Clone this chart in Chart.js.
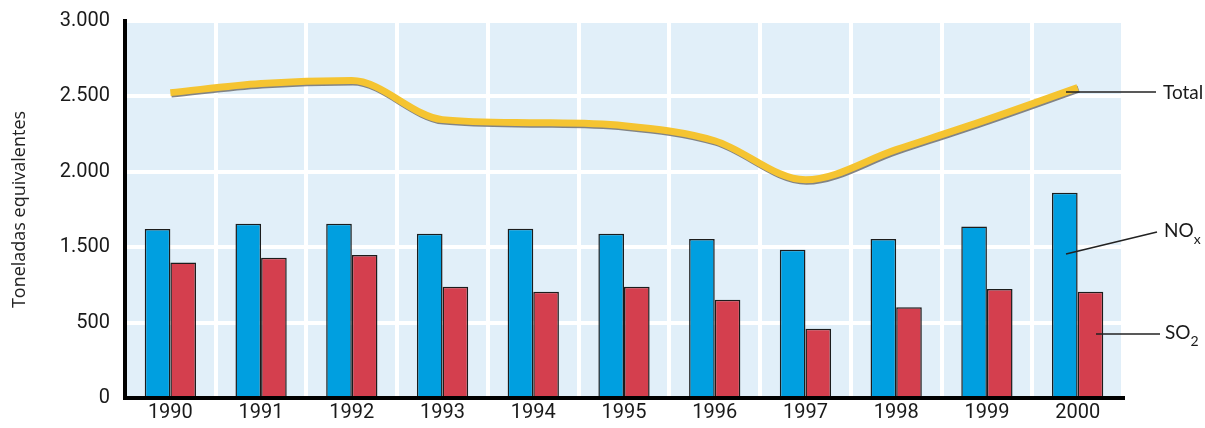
<!DOCTYPE html>
<html>
<head>
<meta charset="utf-8">
<script src="https://cdn.jsdelivr.net/npm/chart.js@4"></script>
<style>
  body { margin: 0; background: #fff; }
  #wrap { width: 1205px; height: 428px; position: relative; }
</style>
</head>
<body>
<div id="wrap"><canvas id="chart"></canvas></div>
<script>
// Data (toneladas equivalentes); axis printed labels are kept as in the source
const years = ["1990", "1991", "1992", "1993", "1994", "1995", "1996", "1997", "1998", "1999", "2000"];
const noxValues = [1120, 1155, 1155, 1089, 1122, 1089, 1054, 983, 1054, 1137, 1361];
const so2Values = [898, 930, 948, 737, 704, 737, 651, 460, 602, 722, 704];
const totalValues = [2025, 2085, 2105, 1846, 1826, 1806, 1706, 1447, 1647, 1846, 2058];
const yTickLabels = ["0", "500", "1.500", "2.000", "2.500", "3.000"];

// light blue plot background
const plotBg = {
  id: "plotBg",
  beforeDraw(chart) {
    const { ctx, chartArea: a } = chart;
    ctx.save();
    ctx.fillStyle = "#e1eff9";
    ctx.fillRect(a.left, a.top, a.right - a.left, a.bottom - a.top);
    ctx.restore();
  },
};

// grey drop shadow under the total line
const lineShadow = {
  id: "lineShadow",
  beforeDatasetDraw(chart, args) {
    if (args.meta.type !== "line") return;
    const ctx = chart.ctx;
    ctx.save();
    ctx.shadowColor = "rgba(120,120,120,0.9)";
    ctx.shadowOffsetX = 1;
    ctx.shadowOffsetY = 1.5;
    ctx.shadowBlur = 0.5;
  },
  afterDatasetDraw(chart, args) {
    if (args.meta.type !== "line") return;
    chart.ctx.restore();
  },
};

// labels at the right with leader lines
const seriesLabels = {
  id: "seriesLabels",
  afterDraw(chart) {
    const ctx = chart.ctx;
    ctx.save();
    ctx.strokeStyle = "#222";
    ctx.lineWidth = 1.5;
    const leaders = [
      [1066, 92, 1156, 92],
      [1066, 254, 1157, 232],
      [1096, 334, 1160, 334],
    ];
    leaders.forEach(([x1, y1, x2, y2]) => {
      ctx.beginPath();
      ctx.moveTo(x1, y1);
      ctx.lineTo(x2, y2);
      ctx.stroke();
    });
    ctx.fillStyle = "#1a1a1a";
    ctx.textBaseline = "middle";
    ctx.font = "19px Lato";
    ctx.fillText("Total", 1163, 93);
    ctx.fillText("NO", 1164, 231);
    const noW = ctx.measureText("NO").width;
    ctx.fillText("SO", 1165, 333);
    const soW = ctx.measureText("SO").width;
    ctx.font = "14px Lato";
    ctx.fillText("x", 1164 + noW, 239);
    ctx.fillText("2", 1165 + soW, 341);
    ctx.restore();
  },
};

const ctx = document.getElementById("chart").getContext("2d");
const chart = new Chart(ctx, {
  data: {
    labels: years,
    datasets: [
      {
        type: "line",
        label: "Total",
        data: totalValues,
        borderColor: "#f5c431",
        borderWidth: 7,
        pointRadius: 0,
        cubicInterpolationMode: "monotone",
        borderJoinStyle: "round",
        order: 0,
      },
      {
        type: "bar",
        label: "NOx",
        data: noxValues,
        backgroundColor: "#009fe0",
        borderColor: "#1c1c1c",
        borderWidth: 1.5,
        categoryPercentage: 0.565,
        barPercentage: 1.0,
        order: 1,
      },
      {
        type: "bar",
        label: "SO2",
        data: so2Values,
        backgroundColor: "#d43f4e",
        borderColor: "#1c1c1c",
        borderWidth: 1.5,
        categoryPercentage: 0.565,
        barPercentage: 1.0,
        order: 1,
      },
    ],
  },
  options: {
    responsive: true,
    maintainAspectRatio: false,
    animation: false,
    layout: { padding: { left: 0, right: 82, top: 21, bottom: 0 } },
    plugins: {
      legend: { display: false },
      tooltip: { enabled: false },
    },
    scales: {
      x: {
        offset: true,
        grid: { offset: true, color: "#ffffff", lineWidth: 4, drawTicks: false },
        border: { color: "#000", width: 4 },
        ticks: { color: "#1a1a1a", font: { family: "Roboto", size: 20 }, padding: 3 },
        afterFit(scale) { scale.height = 30; },
      },
      y: {
        min: 0,
        max: 2500,
        grid: { color: "#ffffff", lineWidth: 4, drawTicks: false },
        border: { color: "#000", width: 4 },
        ticks: {
          stepSize: 500,
          color: "#1a1a1a",
          font: { family: "Roboto", size: 20 },
          padding: 15,
          callback: (v, i) => yTickLabels[i],
        },
        title: {
          display: true,
          text: "Toneladas equivalentes",
          color: "#222",
          font: { family: "Open Sans", size: 18 },
          padding: { top: 9, bottom: 0 },
        },
        afterFit(scale) {
          scale.width = 125;
          scale.paddingTop = 0;
          scale.paddingBottom = 0;
        },
      },
    },
  },
  plugins: [plotBg, lineShadow, seriesLabels],
});
</script>
</body>
</html>
